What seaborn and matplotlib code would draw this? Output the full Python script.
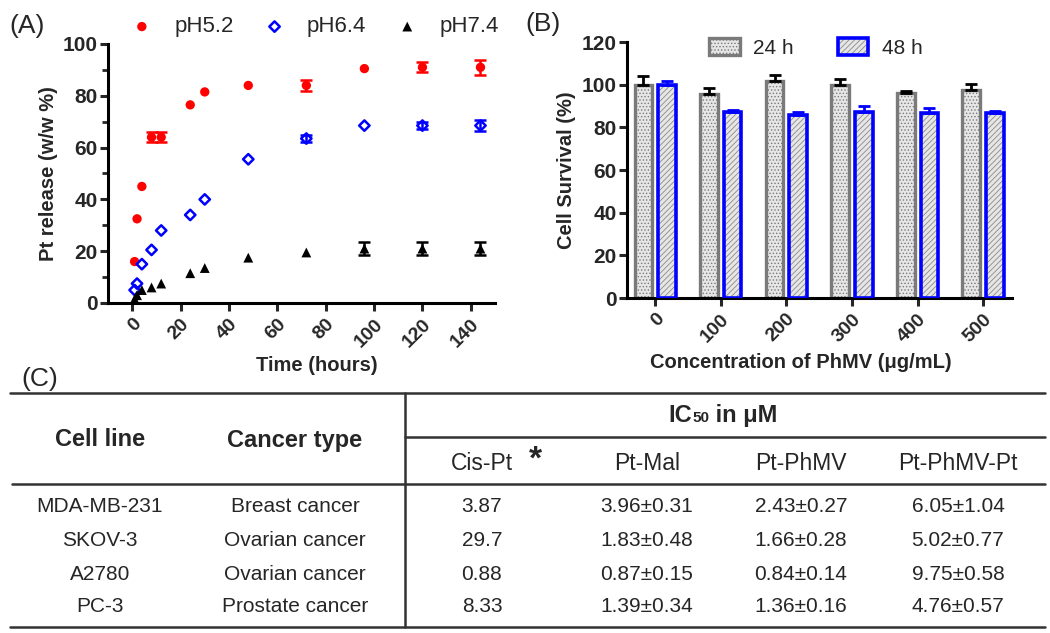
import numpy as np
import pandas as pd
import matplotlib
matplotlib.use("Agg")
import matplotlib.pyplot as plt
import seaborn as sns
from matplotlib.patches import Rectangle, Patch
from matplotlib.legend_handler import HandlerTuple

# ---------------- data ----------------
time_h = [1, 2, 4, 8, 12, 24, 30, 48, 72, 96, 120, 144]
ph52 = [16, 32.5, 45, 64, 64, 76.5, 81.5, 84, 84, 90.5, 91, 91]
ph52_err = [0, 0, 0, 2, 2, 0, 0, 0, 2, 0, 2, 3]
ph64 = [5, 7.5, 15, 20.5, 28, 34, 40, 55.5, 63.5, 68.5, 68.5, 68.5]
ph64_err = [0, 0, 0, 0, 0, 0, 0, 0, 1.5, 0, 1.5, 2]
ph74 = [1.5, 3, 5, 6, 7.5, 11.5, 13.5, 17.5, 19.5, 21, 21, 21]
ph74_err = [0, 0, 0, 0, 0, 0, 0, 0, 0, 2.5, 2.5, 2.5]

conc = ["0", "100", "200", "300", "400", "500"]
surv_24 = [100, 95.5, 101.5, 100, 96, 97.5]
err_24 = [4, 3, 3, 2.5, 1, 3]
surv_48 = [100, 87, 86, 87, 86.5, 86.5]
err_48 = [1.5, 1, 1, 3, 2.5, 1]

cell_lines = ["MDA-MB-231", "SKOV-3", "A2780", "PC-3"]
cancer_types = ["Breast cancer", "Ovarian cancer", "Ovarian cancer", "Prostate cancer"]
cis_pt = ["3.87", "29.7", "0.88", "8.33"]
pt_mal = ["3.96±0.31", "1.83±0.48", "0.87±0.15", "1.39±0.34"]
pt_phmv = ["2.43±0.27", "1.66±0.28", "0.84±0.14", "1.36±0.16"]
pt_phmv_pt = ["6.05±1.04", "5.02±0.77", "9.75±0.58", "4.76±0.57"]
col_heads = ["Cis-Pt", "Pt-Mal", "Pt-PhMV", "Pt-PhMV-Pt"]

# ---------------- style ----------------
sns.set_style("ticks")
plt.rcParams["font.family"] = ["Liberation Sans", "DejaVu Sans"]
plt.rcParams["hatch.linewidth"] = 0.6

W, H = 1050, 633
fig = plt.figure(figsize=(W / 100, H / 100), dpi=100)

# background axes in pixel coordinates for table and panel letters
T = fig.add_axes([0, 0, 1, 1])
T.set_xlim(0, W)
T.set_ylim(H, 0)
T.axis("off")

def fig_rect(x0, y0, x1, y1):
    return [x0 / W, 1 - y1 / H, (x1 - x0) / W, (y1 - y0) / H]

axA = fig.add_axes(fig_rect(108, 44, 495, 303))
axB = fig.add_axes(fig_rect(627, 42, 1012, 298))

def style_axes(ax):
    sns.despine(ax=ax)
    for s in ["left", "bottom"]:
        ax.spines[s].set_linewidth(2.2)
        ax.spines[s].set_color("black")
    ax.tick_params(which="major", direction="out", length=6, width=2.2)
    ax.tick_params(axis="y", which="major", labelsize=15, pad=1.5)
    ax.tick_params(axis="x", which="major", labelsize=14, pad=3)
    ax.tick_params(which="minor", direction="out", length=4, width=2)
    for lab in ax.get_xticklabels() + ax.get_yticklabels():
        lab.set_fontweight("bold")
    for lab in ax.get_xticklabels():
        lab.set_rotation(45)
        lab.set_ha("right")
        lab.set_rotation_mode("anchor")

# ---------------- Panel A ----------------
dfA = pd.DataFrame({"t": time_h, "a": ph52, "b": ph64, "c": ph74})
sns.scatterplot(data=dfA, x="t", y="a", ax=axA, color="#ff0000", marker="o",
                s=45, edgecolor="none", label="pH5.2", clip_on=False, zorder=3)
sns.scatterplot(data=dfA, x="t", y="b", ax=axA, marker="D", s=28,
                facecolor="none", edgecolor="#0000ff", linewidth=1.8,
                label="pH6.4", clip_on=False, zorder=3)
sns.scatterplot(data=dfA, x="t", y="c", ax=axA, color="black", marker="^",
                s=50, edgecolor="none", label="pH7.4", clip_on=False, zorder=3)
for ys, es, col in [(ph52, ph52_err, "#ff0000"), (ph64, ph64_err, "#0000ff"),
                    (ph74, ph74_err, "black")]:
    idx = [i for i, e in enumerate(es) if e > 0]
    axA.errorbar([time_h[i] for i in idx], [ys[i] for i in idx],
                 yerr=[es[i] for i in idx], fmt="none", ecolor=col,
                 elinewidth=1.8, capsize=4, capthick=1.8, zorder=2)
axA.set_xlim(-10, 150)
axA.set_ylim(0, 100)
axA.set_xticks(np.arange(0, 141, 20))
axA.set_yticks(np.arange(0, 101, 20))
axA.set_yticks(np.arange(10, 100, 20), minor=True)
axA.set_xlabel("Time (hours)", fontsize=14.5, fontweight="bold")
axA.set_ylabel("Pt release (w/w %)", fontsize=14.5, fontweight="bold", labelpad=3)
axA.xaxis.set_label_coords(0.54, -0.205)
style_axes(axA)
axA.legend(loc="center", bbox_to_anchor=(0.52, 1.066), ncol=3, frameon=False,
           fontsize=16, handlelength=2.0, handletextpad=0.45,
           columnspacing=0.85, borderaxespad=0, borderpad=0)

# ---------------- Panel B ----------------
dfB = pd.DataFrame({
    "conc": conc * 2,
    "value": surv_24 + surv_48,
    "time": ["24 h"] * len(conc) + ["48 h"] * len(conc),
})
sns.barplot(data=dfB, x="conc", y="value", hue="time", order=conc,
            hue_order=["24 h", "48 h"], width=0.72, gap=0.25,
            errorbar=None, legend=False, ax=axB)
bars24 = list(axB.containers[0])
bars48 = list(axB.containers[1])
for b in bars24:
    b.set_facecolor("#e6e6e6")
    b.set_edgecolor("#7a7a7a")
    b.set_hatch(".....")
    b.set_linewidth(2.4)
for b in bars48:
    b.set_facecolor("#e6e6e6")
    b.set_edgecolor("#8a8a8a")
    b.set_hatch("//////")
    b.set_linewidth(0)
    axB.add_patch(Rectangle((b.get_x(), b.get_y()), b.get_width(),
                            b.get_height(), fill=False, edgecolor="#0000ff",
                            linewidth=2.6, zorder=3))
for bars, errs, col in [(bars24, err_24, "black"), (bars48, err_48, "#0000ff")]:
    xs = [b.get_x() + b.get_width() / 2 for b in bars]
    ys = [b.get_height() for b in bars]
    axB.errorbar(xs, ys, yerr=[np.zeros(len(errs)), errs], fmt="none",
                 ecolor=col, elinewidth=2, capsize=4, capthick=2, zorder=1)
axB.set_xlim(-0.43, 5.44)
axB.set_ylim(0, 120)
axB.set_yticks(np.arange(0, 121, 20))
axB.set_xlabel("Concentration of PhMV (μg/mL)", fontsize=14.5,
               fontweight="bold")
axB.set_ylabel("Cell Survival (%)", fontsize=14.5, fontweight="bold", labelpad=4)
axB.xaxis.set_label_coords(0.452, -0.215)
style_axes(axB)

h24 = Patch(facecolor="#e6e6e6", edgecolor="#7a7a7a", hatch=".....", linewidth=2.4)
h48a = Patch(facecolor="#e6e6e6", edgecolor="#8a8a8a", hatch="//////", linewidth=0)
h48b = Patch(facecolor="none", edgecolor="#0000ff", linewidth=2.6)
axB.legend([h24, (h48a, h48b)], ["24 h", "48 h"], loc="center",
           bbox_to_anchor=(0.491, 0.977), ncol=2, frameon=False, fontsize=15,
           handlelength=1.45, handleheight=0.87, columnspacing=2.1,
           handletextpad=0.67, borderaxespad=0, borderpad=0,
           handler_map={tuple: HandlerTuple(ndivide=1, pad=0)})

# ---------------- panel letters ----------------
T.text(27, 26, "(A)", fontsize=19, ha="center", va="center")
T.text(543, 24, "(B)", fontsize=19, ha="center", va="center")
T.text(40, 379, "(C)", fontsize=19, ha="center", va="center")

# ---------------- Panel C (table) ----------------
lc = "#333333"
lw = 1.8
T.plot([10, 1045], [393, 393], color=lc, lw=lw)
T.plot([405, 405], [393, 627], color=lc, lw=lw)
T.plot([405, 1045], [437, 437], color=lc, lw=lw)
T.plot([12, 1045], [484, 484], color=lc, lw=lw)
T.plot([10, 1045], [627, 627], color=lc, lw=lw)

hfs = 17
T.text(100, 440, "Cell line", fontsize=hfs, fontweight="bold", ha="center", va="center")
T.text(295, 440, "Cancer type", fontsize=hfs, fontweight="bold", ha="center", va="center")

# IC50 header with smaller "50"
fig.canvas.draw()
r = fig.canvas.get_renderer()
parts = [("IC", hfs), ("50", 11), (" in μM", hfs)]
widths = []
for s, fs in parts:
    t = T.text(0, 0, s, fontsize=fs, fontweight="bold")
    widths.append(t.get_window_extent(r).width)
    t.remove()
x = 723 - sum(widths) / 2
for (s, fs), wdt in zip(parts, widths):
    T.text(x, 422, s, fontsize=fs, fontweight="bold", ha="left", va="baseline")
    x += wdt

col_x = [482, 647, 801, 958]
for cx, head in zip(col_x, col_heads):
    T.text(cx, 463, head, fontsize=16.5, ha="center", va="center")
T.text(535, 460, "*", fontsize=24, fontweight="bold", ha="center", va="center")

row_y = [506, 540, 574, 607]
rfs = 15
for i, ry in enumerate(row_y):
    T.text(100, ry, cell_lines[i], fontsize=rfs, ha="center", va="center")
    T.text(295, ry, cancer_types[i], fontsize=rfs, ha="center", va="center")
    for cx, vals in zip(col_x, [cis_pt, pt_mal, pt_phmv, pt_phmv_pt]):
        T.text(cx, ry, vals[i], fontsize=rfs, ha="center", va="center")

fig.savefig("out.png", dpi=100)
